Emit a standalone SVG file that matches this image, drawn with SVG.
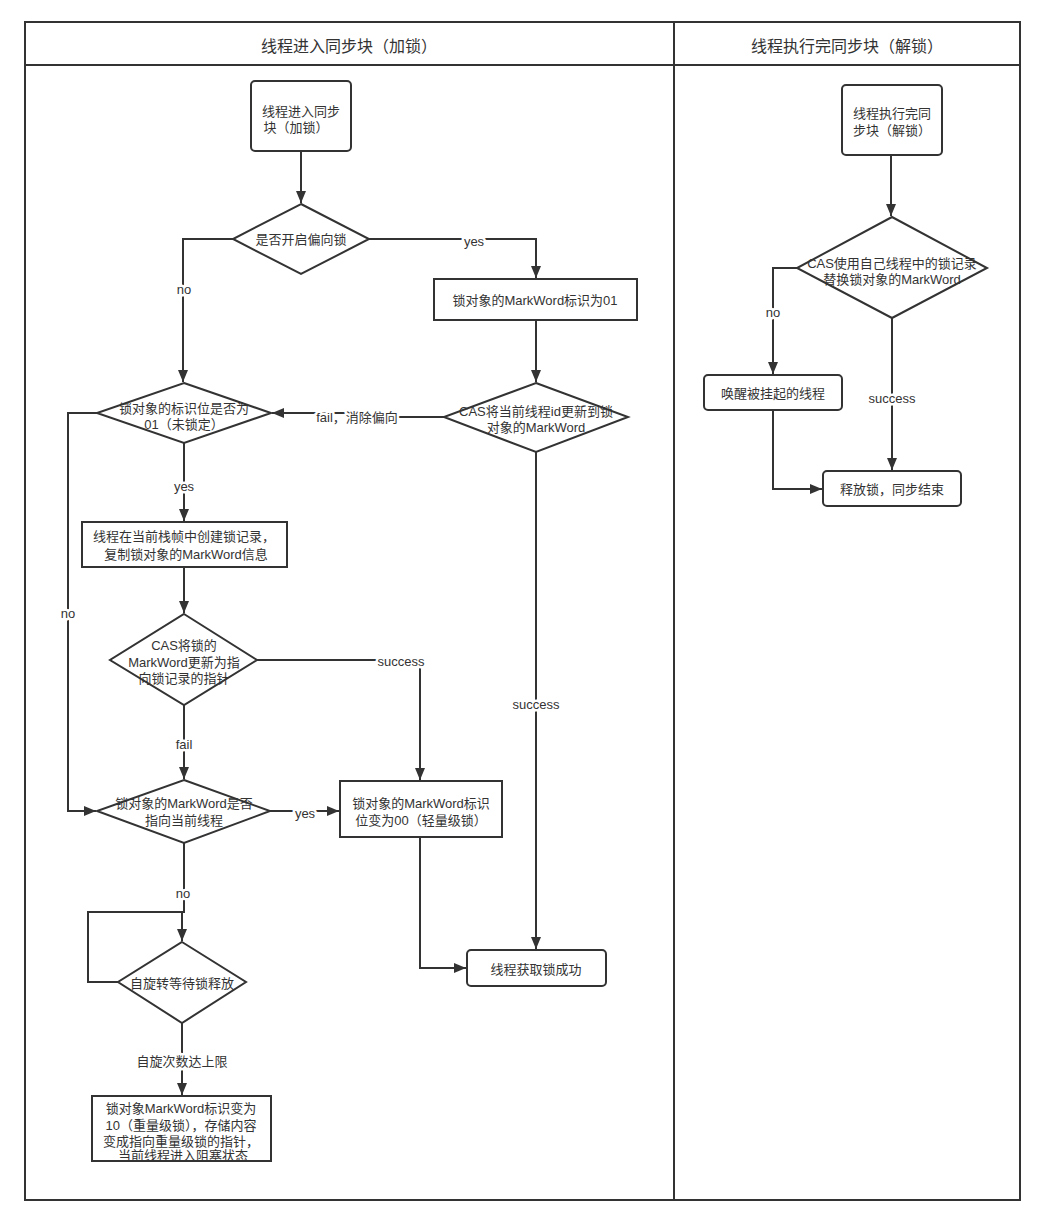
<svg xmlns="http://www.w3.org/2000/svg" width="1045" height="1226" viewBox="0 0 1045 1226">
<style>
text{font-family:"Liberation Sans","Noto Sans CJK SC",sans-serif;font-size:13px;fill:#333;text-anchor:middle;dominant-baseline:central}
.hd{font-size:16px}
.n{fill:#fff;stroke:#333;stroke-width:2}
.e{fill:none;stroke:#333;stroke-width:2}
.lbl{stroke:#fff;stroke-width:5;paint-order:stroke;stroke-linejoin:round}
</style>
<defs>
<marker id="a" markerUnits="userSpaceOnUse" markerWidth="13" markerHeight="12" refX="12" refY="6" orient="auto">
<path d="M0,1 L12,6 L0,11 z" fill="#333"/>
</marker>
</defs>
<rect width="1045" height="1226" fill="#fff"/>
<g id="frame">
<rect x="25" y="22" width="995" height="1178" fill="none" stroke="#333" stroke-width="2"/>
<line x1="25" y1="65" x2="1020" y2="65" stroke="#333" stroke-width="2"/>
<line x1="674" y1="22" x2="674" y2="1200" stroke="#333" stroke-width="2"/>
<text class="hd" x="349" y="46">线程进入同步块（加锁）</text>
<text class="hd" x="847" y="46">线程执行完同步块（解锁）</text>
</g>
<g id="connectors">
<path class="e" d="M301,151 V203" marker-end="url(#a)"/>
<path class="e" d="M369,239 H536 V278" marker-end="url(#a)"/>
<path class="e" d="M233,239 H183 V382" marker-end="url(#a)"/>
<path class="e" d="M536,320 V382" marker-end="url(#a)"/>
<path class="e" d="M444,417 H357 V413 H272" marker-end="url(#a)"/>
<path class="e" d="M184,443 V521" marker-end="url(#a)"/>
<path class="e" d="M184,567 V613" marker-end="url(#a)"/>
<path class="e" d="M257,660 H420 V780" marker-end="url(#a)"/>
<path class="e" d="M184,705 V779" marker-end="url(#a)"/>
<path class="e" d="M97,413 H68 V811 H96" marker-end="url(#a)"/>
<path class="e" d="M270,811 H339" marker-end="url(#a)"/>
<path class="e" d="M420,837 V968 H466" marker-end="url(#a)"/>
<path class="e" d="M536,452 V949" marker-end="url(#a)"/>
<path class="e" d="M184,843 V912 H182 V941" marker-end="url(#a)"/>
<path class="e" d="M118,982 H88 V912 H182"/>
<path class="e" d="M182,1023 V1095" marker-end="url(#a)"/>
<path class="e" d="M891,155 V216" marker-end="url(#a)"/>
<path class="e" d="M797,268 H773 V374" marker-end="url(#a)"/>
<path class="e" d="M892,318 V470" marker-end="url(#a)"/>
<path class="e" d="M773,410 V489 H822" marker-end="url(#a)"/>
<text class="lbl" x="474" y="241">yes</text>
<text class="lbl" x="184" y="289">no</text>
<text class="lbl" x="357" y="417">fail，消除偏向</text>
<text class="lbl" x="184" y="486">yes</text>
<text class="lbl" x="401" y="661">success</text>
<text class="lbl" x="184" y="744">fail</text>
<text class="lbl" x="68" y="613">no</text>
<text class="lbl" x="305" y="813">yes</text>
<text class="lbl" x="536" y="704">success</text>
<text class="lbl" x="183" y="893">no</text>
<text class="lbl" x="182" y="1061">自旋次数达上限</text>
<text class="lbl" x="773" y="312">no</text>
<text class="lbl" x="892" y="398">success</text>
</g>
<g id="n_start">
<rect class="n" x="251" y="81" width="100" height="70" rx="4"/>
<text x="301" y="111">线程进入同步</text>
<text x="296" y="127">块（加锁）</text>
</g>
<g id="n_biased">
<polygon class="n" points="301,204 369,239 301,274 233,239"/>
<text x="301" y="239">是否开启偏向锁</text>
</g>
<g id="n_mark01">
<rect class="n" x="434" y="279" width="203" height="41"/>
<text x="535" y="300">锁对象的MarkWord标识为01</text>
</g>
<g id="n_unlocked">
<polygon class="n" points="184,383 271,413 184,443 97,413"/>
<text x="184" y="408">锁对象的标识位是否为</text>
<text x="184" y="424">01（未锁定）</text>
</g>
<g id="n_cas_id">
<polygon class="n" points="536,383 628,417 536,452 444,417"/>
<text x="536" y="411">CAS将当前线程id更新到锁</text>
<text x="536" y="427">对象的MarkWord</text>
</g>
<g id="n_record">
<rect class="n" x="82" y="522" width="205" height="45"/>
<text x="184" y="536">线程在当前栈帧中创建锁记录，</text>
<text x="186" y="554">复制锁对象的MarkWord信息</text>
</g>
<g id="n_cas_ptr">
<polygon class="n" points="184,614 257,660 184,705 110,660"/>
<text x="184" y="645">CAS将锁的</text>
<text x="184" y="662">MarkWord更新为指</text>
<text x="184" y="678">向锁记录的指针</text>
</g>
<g id="n_points">
<polygon class="n" points="184,780 270,811 184,843 97,811"/>
<text x="184" y="803">锁对象的MarkWord是否</text>
<text x="184" y="820">指向当前线程</text>
</g>
<g id="n_light">
<rect class="n" x="340" y="781" width="162" height="56"/>
<text x="421" y="803">锁对象的MarkWord标识</text>
<text x="421" y="820">位变为00（轻量级锁）</text>
</g>
<g id="n_success">
<rect class="n" x="467" y="950" width="139" height="36" rx="4"/>
<text x="536" y="969">线程获取锁成功</text>
</g>
<g id="n_spin">
<polygon class="n" points="182,942 246,982 182,1023 118,982"/>
<text x="182" y="983">自旋转等待锁释放</text>
</g>
<g id="n_heavy">
<rect class="n" x="92" y="1096" width="179" height="65"/>
<text x="181" y="1108">锁对象MarkWord标识变为</text>
<text x="181" y="1125">10（重量级锁），存储内容</text>
<text x="181" y="1141">变成指向重量级锁的指针，</text>
<text x="183" y="1155">当前线程进入阻塞状态</text>
</g>
<g id="n_exit">
<rect class="n" x="842" y="85" width="100" height="70" rx="4"/>
<text x="892" y="113">线程执行完同</text>
<text x="892" y="130">步块（解锁）</text>
</g>
<g id="n_cas_release">
<polygon class="n" points="892,217 987,268 892,318 797,268"/>
<text x="892" y="263">CAS使用自己线程中的锁记录</text>
<text x="892" y="279">替换锁对象的MarkWord</text>
</g>
<g id="n_wake">
<rect class="n" x="704" y="375" width="138" height="35" rx="4"/>
<text x="773" y="393">唤醒被挂起的线程</text>
</g>
<g id="n_release">
<rect class="n" x="823" y="471" width="138" height="35" rx="4"/>
<text x="892" y="489">释放锁，同步结束</text>
</g>
</svg>
